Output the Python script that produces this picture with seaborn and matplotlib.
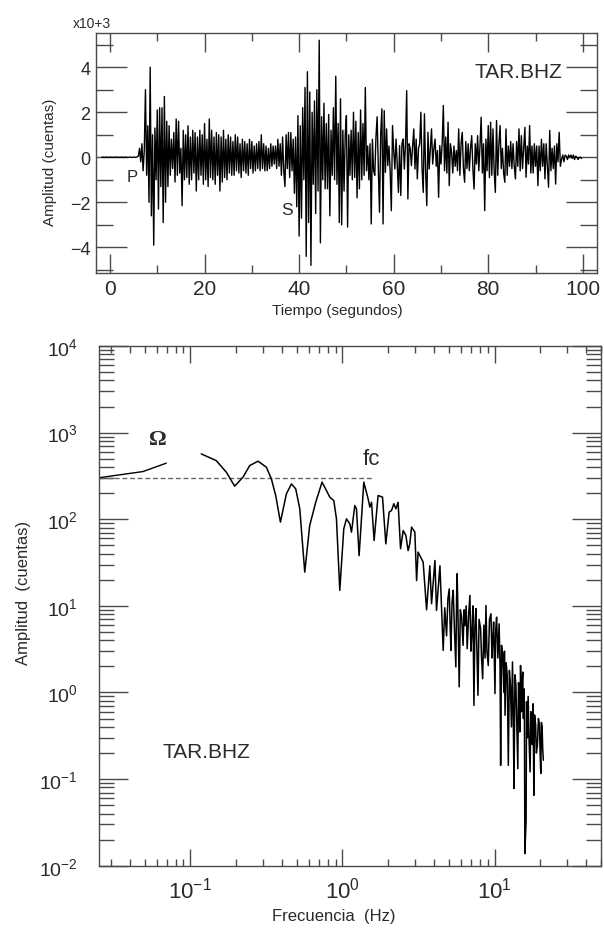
import numpy as np
import pandas as pd
import matplotlib
matplotlib.use("Agg")
import matplotlib.pyplot as plt
import seaborn as sns
from matplotlib.ticker import FixedLocator, FuncFormatter, NullFormatter

# ---------------- data: seismogram (amplitude x10^3 counts, sampled every 0.25 s) ----------
seis_t0 = -1.75
seis_dt = 0.25
pre_event = [0.0, 0.01, -0.01, 0.0, 0.01, 0.0, -0.01, 0.01, 0.0, 0.0,
             -0.01, 0.01, 0.0, 0.01, -0.01, 0.0, 0.0, 0.01, -0.01, 0.0,
             0.01, 0.0, -0.01, 0.0, 0.01, 0.0, -0.01, 0.01, 0.0, 0.0, 0.02]
event = [
    0.05, 0.4, -0.2, 0.6,   -0.6, 0.3, 3.0, -0.8,   1.4, -2.0, 4.0, -2.6,
    1.0, -3.9, 1.3, -1.0,   2.1, -2.3, 2.2, -1.3,   2.2, -2.9, 2.7, -2.0,
    1.6, -1.3, 1.4, -0.8,   0.8, -0.5, 1.1, -1.1,   1.7, -0.8, 1.6, -0.7,
    0.4, -2.15, 1.2, -1.0,  1.0, -0.9, 1.4, -1.2,   0.9, -1.0, 1.2, -0.7,
    1.1, -1.5, 0.9, -1.0,   1.2, -0.8, 1.0, -1.2,   1.5, -1.0, 0.8, -1.3,
    1.7, -0.9, 1.2, -1.0,   0.9, -1.2, 1.1, -0.8,   1.0, -1.5, 0.9, -1.1,
    1.2, -0.9, 0.8, -1.0,   1.0, -0.7, 0.9, -0.8,   0.7, -0.8, 1.0, -0.6,
    0.9, -0.7, 0.6, -0.9,   0.8, -0.6, 0.7, -0.7,   0.6, -0.8, 0.8, -0.5,
    0.7, -0.7, 0.5, -0.6,   0.6, -0.5, 0.7, -0.6,   1.0, -0.5, 0.6, -0.6,
    0.5, -0.6, 0.4, -0.5,   0.6, -0.4, 0.5, -0.3,   0.5, -0.5, 0.8, -0.4,
    0.6, -0.8, 0.9, -0.6,   -1.3, 1.0, -0.5, 1.1,   -0.9, 1.1, -0.6, 0.8,
    -1.6, 0.9, -2.2, 1.85,  -3.5, 1.4, -2.7, 2.2,   -1.0, 3.1, -4.4, 3.8,
    -2.9, 2.9, -4.8, 2.0,   -1.2, 2.5, -2.5, 3.0,   -1.5, 5.2, -3.8, 1.8,
    -1.0, 2.4, -1.4, 1.5,   -1.4, 1.9, -2.6, 1.2,   -0.8, 2.2, -1.0, 3.6,
    -1.2, 1.5, -2.9, 2.6,   -3.0, 1.2, -1.5, 1.0,   1.85, -3.1, 1.0, -0.8,
    1.2, -1.0, 2.0, -0.9,   1.6, -1.8, 1.1, -1.4,   2.1, -1.0, 1.5, -0.8,
    3.1, -0.6, 0.5, -1.0,   0.6, -2.96, 0.8, -0.6,  -0.8, 0.9, 1.8, -0.5,
    -2.44, 1.0, 2.15, -2.96, 2.07, -0.67, 1.26, -0.37, 0.5, -0.6, -2.37, 1.41,
    0.3, -0.52, 0.81, -0.3, -1.56, 0.52, -1.7, 0.6,  0.81, -0.52, 0.6, 2.96,
    -1.85, 0.6, 0.37, -0.37, 0.5, 1.26, -0.52, 0.81, -0.96, 0.4, 0.59, 2.0,
    -0.5, -1.56, 1.93, -0.6, -2.15, 1.11, -0.52, 0.4, 1.26, -0.3, 0.4, 0.81,
    -0.4, 0.3, -1.78, 0.52, -0.3, 0.6, 2.3, -0.6,   0.9, -0.7, 1.56, -1.26,
    0.6, 0.22, -0.7, 0.5,   -0.4, 0.3, -0.6, 1.26,  -0.8, 0.6, 1.11, -0.5,
    -1.11, 0.7, -0.5, 0.6,  -0.6, 0.4, 0.96, -0.5,  -1.41, 0.6, -0.3, 0.96,
    -0.6, 0.5, 1.78, -0.7,  0.6, -2.37, 0.81, -0.6, 1.41, -0.9, 1.56, -0.8,
    1.26, -0.6, -1.56, 1.63, -0.8, 0.6, 1.41, -0.5, 0.4, -0.7, -1.11, 1.26,
    -0.8, 0.5, -0.4, 0.7,   -0.5, 0.6, -0.4, -0.96, 0.7, -0.4, 1.26, -0.6,
    0.96, -0.5, 0.4, 1.33,  -0.89, 0.5, -0.3, 1.41, -0.7, 0.5, -0.7, 0.6,
    -0.4, 0.5, -1.26, 0.5,  -0.6, 0.8, -0.4, 0.6,   -0.96, 0.6, -0.4, -1.33,
    1.19, -0.6, 0.4, -0.5,  0.5, -1.19, 0.6, -0.2,  1.11, -0.4, -0.1, 0.1,
    -0.2, 0.1, 0.05, -0.1,  0.1, 0.0, 0.1, -0.05,   0.1, -0.1, 0.05, 0.0,
    -0.1, 0.0, 0.0, -0.05,
]
seis_amp = pre_event + event

time_ticks = [0, 20, 40, 60, 80, 100]
time_minor = [10, 30, 50, 70, 90]
amp_ticks = [-4, -2, 0, 2, 4]
amp_minor = [-5, -3, -1, 1, 3, 5]

# ---------------- data: amplitude spectrum ----------------
low_freq = [0.025, 0.0488, 0.0695]
low_amp = [301, 355, 444]

spec_freq = [0.118, 0.148, 0.1725, 0.1956, 0.222, 0.2455, 0.2785, 0.316, 0.341, 0.364,
             0.391, 0.428, 0.462, 0.493, 0.524, 0.565, 0.609, 0.667, 0.734, 0.785,
             0.825, 0.877, 0.913, 0.96, 1.02, 1.062, 1.117, 1.146, 1.205, 1.236,
             1.286, 1.381, 1.474, 1.513, 1.552, 1.614, 1.714, 1.833, 1.927, 2.026,
             2.10, 2.176, 2.243, 2.32, 2.408, 2.505, 2.61, 2.70, 2.77, 2.844,
             2.99, 3.07, 3.14, 3.31, 3.39, 3.57, 3.75, 3.85, 4.05, 4.15,
             4.37, 4.59, 4.7, 4.83, 4.93, 5.03, 5.1, 5.16, 5.25, 5.34,
             5.45, 5.56, 5.62, 5.67, 5.76, 5.85, 5.95, 6.07, 6.2, 6.3,
             6.38, 6.5, 6.6, 6.75, 6.88, 6.98, 7.09, 7.2, 7.31, 7.42,
             7.53, 7.65, 7.77, 7.9, 8.09, 8.2, 8.34, 8.5, 8.65, 8.77,
             8.9, 9.08, 9.25, 9.46, 9.6, 9.7, 9.85, 10.05, 10.15, 10.3,
             10.5, 10.7, 10.85, 10.95, 11.1, 11.3, 11.5, 11.6, 11.7, 11.9,
             12.1, 12.2, 12.3, 12.5, 12.7, 12.9, 13.1, 13.25, 13.4, 13.6,
             13.8, 14.0, 14.2, 14.35, 14.5, 14.65, 14.8, 15.0, 15.15, 15.3,
             15.45, 15.6, 15.7, 15.8, 16.1, 16.2, 16.4, 16.6, 16.8, 17.1,
             17.3, 17.5, 17.7, 17.9, 18.1, 18.3, 18.6, 18.8, 19.1, 19.4,
             19.7, 19.9, 20.1, 20.3, 20.5, 20.7, 20.9]
spec_amp = [568, 475, 349, 241, 306, 416, 468, 399, 292, 188,
            92.6, 196, 256, 224, 132, 24.5, 84.6, 157, 268, 214,
            180, 164, 101, 15.1, 77.5, 101, 88.5, 71, 144, 132,
            38, 268, 172, 138, 157, 56.8, 188, 180, 52, 121,
            126, 151, 132, 157, 45.6, 74, 65, 43.5, 52, 81,
            71, 19.6, 41.7, 34.9, 32, 9, 29, 10.6, 33.4, 8.85,
            29, 3.06, 9.5, 4.5, 12, 15.7, 6, 3.06, 11, 15.1,
            5, 1.97, 12, 23.5, 6, 1.16, 9, 7.4, 3.5, 9,
            5.9, 10, 3.2, 8, 13.2, 3, 4.99, 10, 0.71, 6,
            9.3, 3, 0.93, 7, 5.45, 2.5, 1.44, 6, 2.5, 10.1,
            3, 2.05, 7, 8.1, 2.5, 3.8, 6.5, 0.97, 5, 7.4,
            2.5, 6.2, 2, 0.144, 3.5, 2.68, 1.0, 3, 0.545, 2.2,
            1.57, 0.5, 0.144, 1.8, 1.21, 0.4, 2.25, 0.6, 0.078, 1.6,
            1.21, 0.4, 0.132, 1.3, 1.01, 0.35, 2.05, 0.6, 1.2, 1.72,
            0.5, 1.1, 0.5, 0.0138, 0.0335, 0.78, 0.3, 0.9, 0.32, 0.121,
            0.6, 0.5, 0.25, 0.74, 0.065, 0.55, 0.42, 0.2, 0.245, 0.5,
            0.42, 0.2, 0.116, 0.45, 0.40, 0.22, 0.165]

plateau_freq = [0.025, 1.58]
plateau_amp = [300, 300]

freq_ticks = [0.1, 1, 10]
amp_log_ticks = [1e-2, 1e-1, 1e0, 1e1, 1e2, 1e3, 1e4]

# ---------------- style ----------------
sns.set_theme(style="white")
plt.rcParams['font.family'] = ['Liberation Sans', 'DejaVu Sans']
plt.rcParams['mathtext.fontset'] = 'custom'
plt.rcParams['mathtext.rm'] = 'Liberation Sans'
plt.rcParams['axes.unicode_minus'] = True

W, H = 604, 929
spine_c = '#4a4a4a'
text_c = '#2a2a2a'


def fx(x):
    return x / W


def fy(y):
    return 1 - y / H


fig = plt.figure(figsize=(W / 100, H / 100), dpi=100)
fig.patch.set_facecolor('white')

# ---------------- top panel: seismogram ----------------
ax1 = fig.add_axes([fx(96), fy(274), (597 - 96) / W, (274 - 34) / H])
seis_df = pd.DataFrame({
    't': seis_t0 + seis_dt * np.arange(len(seis_amp)),
    'amp': seis_amp,
})
sns.lineplot(data=seis_df, x='t', y='amp', ax=ax1, color='black', linewidth=1.0,
             estimator=None, sort=False)
ax1.set_xlim(-2.96, 103.0)
ax1.set_ylim(-5.14, 5.52)
ax1.xaxis.set_major_locator(FixedLocator(time_ticks))
ax1.xaxis.set_minor_locator(FixedLocator(time_minor))
ax1.yaxis.set_major_locator(FixedLocator(amp_ticks))
ax1.yaxis.set_minor_locator(FixedLocator(amp_minor))
ax1.yaxis.set_major_formatter(FuncFormatter(lambda v, p: f"{int(v)}".replace('-', '\u2212')))
ax1.tick_params(axis='x', which='major', direction='in', length=14, width=1.0,
                top=True, bottom=True, labelsize=15, pad=4, colors=spine_c, labelcolor=text_c)
ax1.tick_params(axis='x', which='minor', direction='in', length=6, width=1.0,
                top=True, bottom=True, colors=spine_c)
ax1.tick_params(axis='y', which='major', direction='in', length=22, width=1.0,
                left=True, right=True, labelsize=13, pad=4, colors=spine_c, labelcolor=text_c)
ax1.tick_params(axis='y', which='minor', direction='in', length=12, width=1.0,
                left=True, right=True, colors=spine_c)
for s in ax1.spines.values():
    s.set_color(spine_c)
    s.set_linewidth(1.0)
ax1.set_xlabel('')
ax1.set_ylabel('')
fig.text(fx(50), fy(162), 'Amplitud (cuentas)', rotation=90, ha='center', va='center',
         fontsize=11, color=text_c)
fig.text(fx(337), fy(311), 'Tiempo (segundos)', ha='center', va='center',
         fontsize=11, color=text_c)
fig.text(fx(73), fy(24), 'x10+3', ha='left', va='center', fontsize=10, color=text_c)
fig.text(fx(518), fy(72), 'TAR.BHZ', ha='center', va='center', fontsize=15, color=text_c)
fig.text(fx(132), fy(177.5), 'P', ha='center', va='center', fontsize=12, color=text_c)
fig.text(fx(287), fy(210.3), 'S', ha='center', va='center', fontsize=12.5, color=text_c)

# ---------------- bottom panel: spectrum ----------------
ax2 = fig.add_axes([fx(98.7), fy(866.7), (601 - 98.7) / W, (866.7 - 347) / H])
ax2.set_xscale('log')
ax2.set_yscale('log')
sns.lineplot(x=plateau_freq, y=plateau_amp, ax=ax2, color='#666666', linewidth=1.0,
             linestyle=(0, (3.5, 2.0)), estimator=None, sort=False)
sns.lineplot(x=low_freq, y=low_amp, ax=ax2, color='black', linewidth=1.0,
             estimator=None, sort=False)
sns.lineplot(x=spec_freq, y=spec_amp, ax=ax2, color='black', linewidth=1.1,
             estimator=None, sort=False)
ax2.set_xlim(0.025, 50)
ax2.set_ylim(1e-2, 1e4)
x_minor = [m * d for d in (0.01, 0.1, 1, 10) for m in range(2, 10) if 0.025 <= m * d <= 50]
y_minor = [m * d for d in (0.01, 0.1, 1, 10, 100, 1000) for m in range(2, 10)]
ax2.xaxis.set_major_locator(FixedLocator(freq_ticks))
ax2.xaxis.set_minor_locator(FixedLocator(x_minor))
ax2.yaxis.set_major_locator(FixedLocator(amp_log_ticks))
ax2.yaxis.set_minor_locator(FixedLocator(y_minor))
ax2.xaxis.set_minor_formatter(NullFormatter())
ax2.yaxis.set_minor_formatter(NullFormatter())
pow_fmt = FuncFormatter(lambda v, p: r'$\mathregular{10^{%d}}$' % int(round(np.log10(v))))
ax2.xaxis.set_major_formatter(pow_fmt)
ax2.yaxis.set_major_formatter(pow_fmt)
ax2.tick_params(axis='x', which='major', direction='in', length=12, width=1.0,
                top=True, bottom=True, labelsize=16, pad=8, colors=spine_c, labelcolor=text_c)
ax2.tick_params(axis='x', which='minor', direction='in', length=5, width=1.0,
                top=True, bottom=True, colors=spine_c)
ax2.tick_params(axis='y', which='major', direction='in', length=21, width=1.0,
                left=True, right=True, labelsize=14, pad=15, colors=spine_c, labelcolor=text_c)
ax2.tick_params(axis='y', which='minor', direction='in', length=11, width=1.0,
                left=True, right=True, colors=spine_c)
for s in ax2.spines.values():
    s.set_color(spine_c)
    s.set_linewidth(1.0)
ax2.set_xlabel('')
ax2.set_ylabel('')
fig.text(fx(24), fy(593), 'Amplitud  (cuentas)', rotation=90, ha='center', va='center',
         fontsize=12, color=text_c)
fig.text(fx(334), fy(917), 'Frecuencia  (Hz)', ha='center', va='center',
         fontsize=12, color=text_c)
fig.text(fx(206), fy(753), 'TAR.BHZ', ha='center', va='center', fontsize=15, color=text_c)
fig.text(fx(158), fy(440), '\u03a9', ha='center', va='center', fontsize=16,
         family=['Liberation Serif', 'DejaVu Serif'], weight='bold', color=text_c)
fig.text(fx(371), fy(460), 'fc', ha='center', va='center', fontsize=16, color=text_c)

fig.savefig('out.png', dpi=100, facecolor='white')
